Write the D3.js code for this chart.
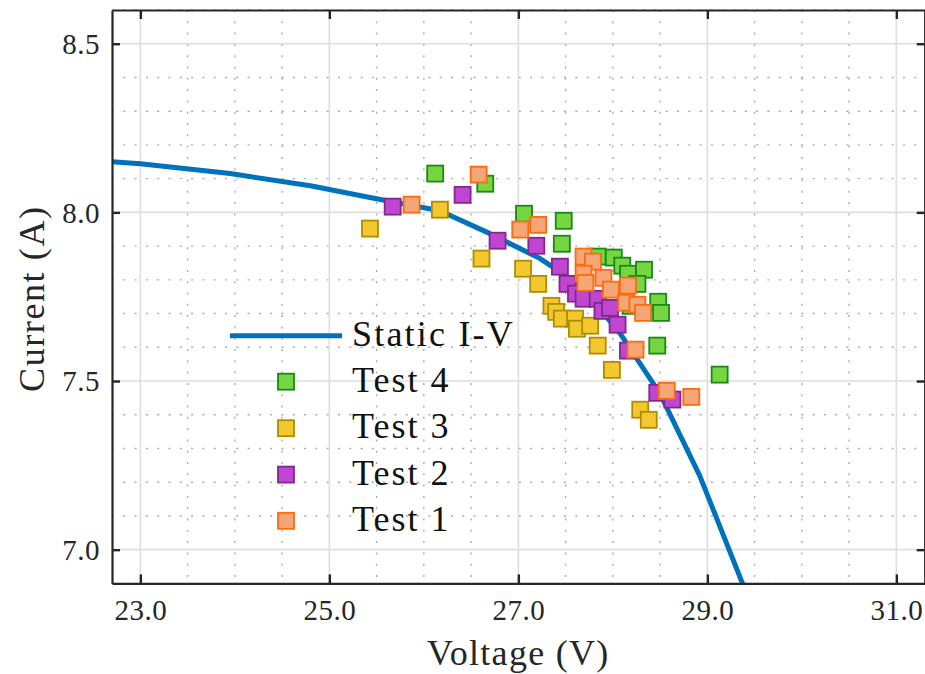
<!DOCTYPE html>
<html><head><meta charset="utf-8">
<script src="https://cdn.jsdelivr.net/npm/d3@7/dist/d3.min.js"></script>
<style>
body{margin:0;background:#fff;}
svg{display:block;font-family:"Liberation Serif","DejaVu Serif",serif;}
</style></head>
<body><svg id="chart" width="925" height="674"></svg>
<script>
// ---- data ----
const staticV = [22.70, 23.00, 23.95, 24.80, 25.43, 26.17, 26.70, 27.23, 27.66, 28.08, 28.50, 28.92, 29.40];
const staticI = [8.150, 8.144, 8.115, 8.079, 8.044, 8.005, 7.937, 7.863, 7.783, 7.640, 7.462, 7.219, 6.880];

const test4V = [26.12, 26.65, 27.06, 27.48, 27.46, 27.84, 28.01, 28.10, 28.16, 28.33, 28.26, 28.19, 28.48, 28.51, 28.47, 29.13];
const test4I = [8.115, 8.085, 7.996, 7.975, 7.907, 7.869, 7.866, 7.842, 7.818, 7.830, 7.788, 7.723, 7.735, 7.702, 7.605, 7.519];

const test3V = [25.43, 26.17, 26.61, 27.05, 27.21, 27.35, 27.40, 27.46, 27.60, 27.62, 27.76, 27.84, 27.99, 28.29, 28.38];
const test3I = [7.952, 8.008, 7.863, 7.833, 7.788, 7.723, 7.705, 7.685, 7.685, 7.655, 7.664, 7.605, 7.533, 7.415, 7.385];

const test2V = [25.67, 26.41, 26.78, 27.19, 27.44, 27.52, 27.61, 27.69, 27.84, 27.89, 27.97, 28.05, 28.16, 28.47, 28.63];
const test2I = [8.017, 8.052, 7.916, 7.901, 7.839, 7.788, 7.759, 7.744, 7.744, 7.708, 7.717, 7.667, 7.590, 7.465, 7.445];

const test1V = [25.87, 26.58, 27.02, 27.21, 27.69, 27.79, 27.69, 27.71, 27.90, 27.98, 28.16, 28.14, 28.26, 28.32, 28.24, 28.57, 28.83];
const test1I = [8.023, 8.112, 7.949, 7.963, 7.869, 7.854, 7.818, 7.791, 7.806, 7.771, 7.783, 7.732, 7.726, 7.702, 7.593, 7.471, 7.453];

const xTicks = [23, 25, 27, 29, 31];
const yTicks = [7.0, 7.5, 8.0, 8.5];
const xLabel = "Voltage (V)";
const yLabel = "Current (A)";
const seriesNames = ["Test 4", "Test 3", "Test 2", "Test 1"];
const lineName = "Static I-V";

// ---- layout ----
const svg = d3.select("#chart");
const L = 112, R = 924.7, T = 10, B = 583.4;
const x = d3.scaleLinear().domain([22.7, 31.3]).range([L, R]);
const y = d3.scaleLinear().domain([6.9, 8.6]).range([B, T]);

const styles = [
  {fill: "#77d542", stroke: "#188a18"},
  {fill: "#f3c72e", stroke: "#b08c00"},
  {fill: "#c046d2", stroke: "#7d2a8c"},
  {fill: "#f4a676", stroke: "#ff6a0e"}
];

svg.append("defs").append("clipPath").attr("id", "clip")
  .append("rect").attr("x", L).attr("y", T).attr("width", R - L).attr("height", B - T);

// minor grid
const minorX = d3.range(23.0, 31.3, 0.5);
const minorY = d3.range(6.9, 8.61, 0.1);
const grid = svg.append("g");
grid.selectAll(".mx").data(minorX.filter(v => !xTicks.some(t => Math.abs(t - v) < 1e-6))).enter().append("line")
  .attr("x1", d => x(d)).attr("x2", d => x(d)).attr("y1", T).attr("y2", B)
  .attr("stroke", "#aaaaaa").attr("stroke-width", 1.4).attr("stroke-dasharray", "2,9.3");
grid.selectAll(".my").data(minorY.filter(v => !yTicks.some(t => Math.abs(t - v) < 1e-6))).enter().append("line")
  .attr("x1", L).attr("x2", R).attr("y1", d => y(d)).attr("y2", d => y(d))
  .attr("stroke", "#aaaaaa").attr("stroke-width", 1.4).attr("stroke-dasharray", "2,9.3");
// major grid
grid.selectAll(".gx").data(xTicks).enter().append("line")
  .attr("x1", d => x(d)).attr("x2", d => x(d)).attr("y1", T).attr("y2", B)
  .attr("stroke", "#dedede").attr("stroke-width", 1.6);
grid.selectAll(".gy").data(yTicks).enter().append("line")
  .attr("x1", L).attr("x2", R).attr("y1", d => y(d)).attr("y2", d => y(d))
  .attr("stroke", "#dedede").attr("stroke-width", 1.6);

// static line
const lineData = staticV.map((v, i) => [v, staticI[i]]);
svg.append("path").datum(lineData)
  .attr("clip-path", "url(#clip)")
  .attr("fill", "none").attr("stroke", "#0072bd").attr("stroke-width", 5)
  .attr("stroke-linejoin", "round")
  .attr("d", d3.line().x(d => x(d[0])).y(d => y(d[1])));

// scatter
const sets = [[test4V, test4I], [test3V, test3I], [test2V, test2I], [test1V, test1I]];
const S = 16;
sets.forEach((s, k) => {
  const pts = s[0].map((v, i) => [v, s[1][i]]);
  svg.append("g").attr("clip-path", "url(#clip)").selectAll("rect").data(pts).enter().append("rect")
    .attr("x", d => x(d[0]) - S / 2).attr("y", d => y(d[1]) - S / 2)
    .attr("width", S).attr("height", S)
    .attr("fill", styles[k].fill).attr("stroke", styles[k].stroke).attr("stroke-width", 1.8);
});

// axes
const axCol = "#262626";
const fmt = d3.format(".1f");
const gxB = svg.append("g").attr("transform", `translate(0,${B})`)
  .call(d3.axisBottom(x).tickValues(xTicks).tickFormat(fmt).tickSizeInner(-9).tickSizeOuter(0).tickPadding(16));
const gxT = svg.append("g").attr("transform", `translate(0,${T})`)
  .call(d3.axisTop(x).tickValues(xTicks).tickFormat("").tickSizeInner(-9).tickSizeOuter(0));
const gyL = svg.append("g").attr("transform", `translate(${L},0)`)
  .call(d3.axisLeft(y).tickValues(yTicks).tickFormat(fmt).tickSizeInner(-8).tickSizeOuter(0).tickPadding(12));
const gyR = svg.append("g").attr("transform", `translate(${R},0)`)
  .call(d3.axisRight(y).tickValues(yTicks).tickFormat("").tickSizeInner(-8).tickSizeOuter(0));
[gxB, gxT, gyL, gyR].forEach(g => {
  g.attr("font-family", null).attr("font-size", null);
  g.select(".domain").attr("stroke", axCol).attr("stroke-width", 2.2);
  g.selectAll(".tick line").attr("stroke", axCol).attr("stroke-width", 2.4);
  g.selectAll(".tick text").attr("fill", axCol).attr("font-family", "Liberation Serif, serif").attr("font-size", 29)
    .attr("letter-spacing", 0.5);
});
gyL.selectAll(".tick text").attr("dy", "0.34em");

// axis labels
svg.append("text").attr("x", (L + R) / 2).attr("y", 665).attr("text-anchor", "middle")
  .attr("font-size", 36).attr("fill", axCol).attr("letter-spacing", 1.3).text(xLabel);
svg.append("text").attr("transform", `translate(44,${(T + B) / 2 + 2}) rotate(-90)`).attr("text-anchor", "middle")
  .attr("font-size", 36).attr("fill", axCol).attr("letter-spacing", 1.6).text(yLabel);

// legend
const lg = svg.append("g");
const rowY = [335.7, 381.7, 428.2, 474.6, 520.8];
lg.append("line").attr("x1", 230).attr("x2", 342).attr("y1", rowY[0]).attr("y2", rowY[0])
  .attr("stroke", "#0072bd").attr("stroke-width", 5);
lg.append("text").attr("x", 352).attr("y", rowY[0] + 10).attr("font-size", 36).attr("fill", "#111")
  .attr("letter-spacing", 2.2).text(lineName);
seriesNames.forEach((n, k) => {
  lg.append("rect").attr("x", 286 - S / 2).attr("y", rowY[k + 1] - S / 2).attr("width", S).attr("height", S)
    .attr("fill", styles[k].fill).attr("stroke", styles[k].stroke).attr("stroke-width", 1.8);
  lg.append("text").attr("x", 352).attr("y", rowY[k + 1] + 10).attr("font-size", 36).attr("fill", "#111")
    .attr("letter-spacing", 2).text(n);
});
</script></body></html>
